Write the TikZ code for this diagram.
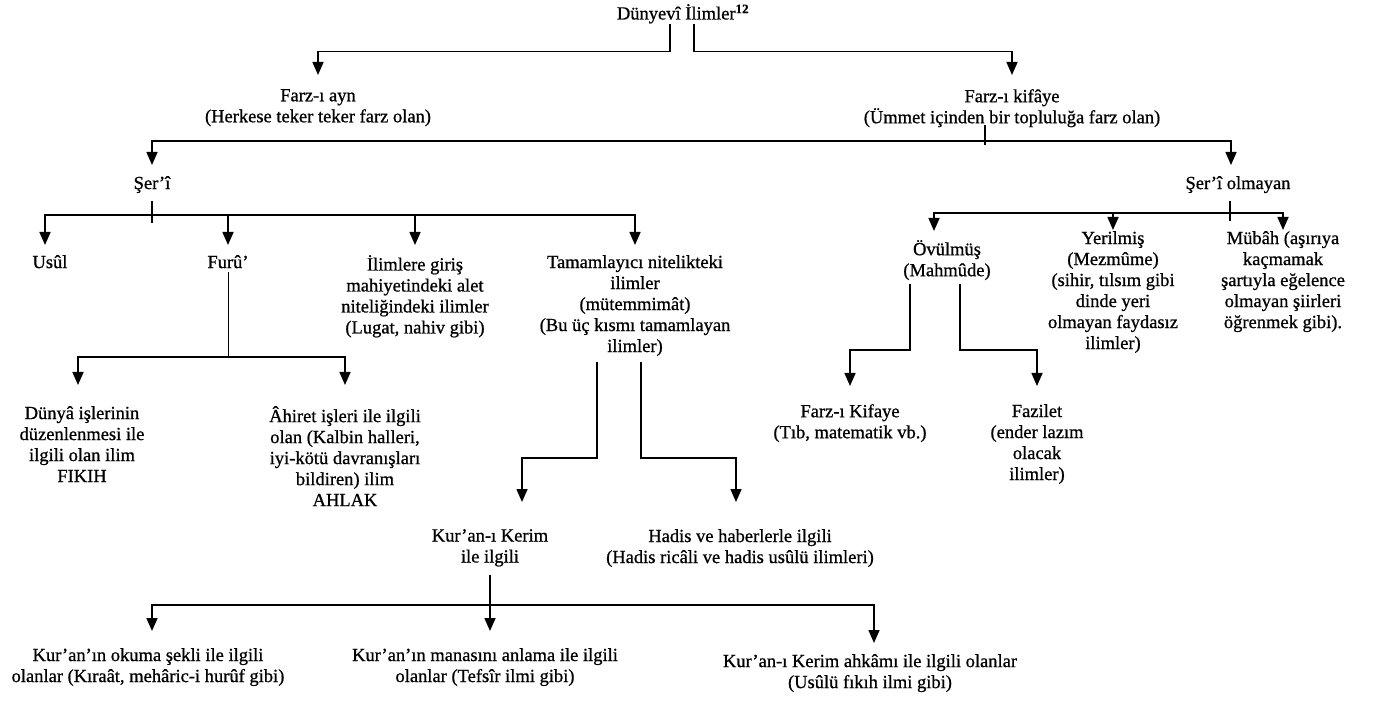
\documentclass[tikz,border=0pt]{standalone}
\usepackage{fontspec}
\setmainfont[FakeBold=0.8]{Liberation Serif}
\usetikzlibrary{arrows.meta}
\begin{document}
\begin{tikzpicture}[x=1pt,y=-1pt,
		lbl/.style={align=center,inner sep=0pt,anchor=north,font=\fontsize{18.5}{21}\selectfont},
		arr/.style={-{Triangle[width=11pt,length=13pt]},line width=1.6pt},
		ln/.style={line width=1.6pt}]
		\useasboundingbox (0,0) rectangle (1374,727);
		\node[lbl] (T) at (683,4) {Dünyevî İlimler\textsuperscript{\textbf{12}}};
		\node[lbl] (fa) at (318,89) {Farz-ı ayn\\(Herkese teker teker farz olan)};
		\node[lbl] (fk) at (1012,89) {Farz-ı kifâye\\(Ümmet içinden bir topluluğa farz olan)};
		\node[lbl] (sr) at (152,176) {Şer’î};
		\node[lbl] (sro) at (1238,176) {Şer’î olmayan};
		\node[lbl] (usul) at (50,255) {Usûl};
		\node[lbl] (furu) at (228,255) {Furû’};
		\node[lbl] (alet) at (415,255) {İlimlere giriş\\mahiyetindeki alet\\niteliğindeki ilimler\\(Lugat, nahiv gibi)};
		\node[lbl] (tam) at (635,255) {Tamamlayıcı nitelikteki\\ilimler\\(mütemmimât)\\(Bu üç kısmı tamamlayan\\ilimler)};
		\node[lbl] (ovul) at (947,240) {Övülmüş\\(Mahmûde)};
		\node[lbl] (yer) at (1113,231) {Yerilmiş\\(Mezmûme)\\(sihir, tılsım gibi\\dinde yeri\\olmayan faydasız\\ilimler)};
		\node[lbl] (mub) at (1283,231) {Mübâh (aşırıya\\kaçmamak\\şartıyla eğelence\\olmayan şiirleri\\öğrenmek gibi).};
		\node[lbl] (fkif) at (850,404) {Farz-ı Kifaye\\(Tıb, matematik vb.)};
		\node[lbl] (faz) at (1037,404) {Fazilet\\(ender lazım\\olacak\\ilimler)};
		\node[lbl] (dun) at (82,406) {Dünyâ işlerinin\\düzenlenmesi ile\\ilgili olan ilim\\FIKIH};
		\node[lbl] (ahi) at (345,406) {Âhiret işleri ile ilgili\\olan (Kalbin halleri,\\iyi-kötü davranışları\\bildiren) ilim\\AHLAK};
		\node[lbl] (kur) at (490,529) {Kur’an-ı Kerim\\ile ilgili};
		\node[lbl] (had) at (740,529) {Hadis ve haberlerle ilgili\\(Hadis ricâli ve hadis usûlü ilimleri)};
		\node[lbl] (oku) at (148,648) {Kur’an’ın okuma şekli ile ilgili\\olanlar (Kıraât, mehâric-i hurûf gibi)};
		\node[lbl] (mana) at (485,648) {Kur’an’ın manasını anlama ile ilgili\\olanlar (Tefsîr ilmi gibi)};
		\node[lbl] (ahk) at (870,654) {Kur’an-ı Kerim ahkâmı ile ilgili olanlar\\(Usûlü fıkıh ilmi gibi)};
		\draw[arr] ([xshift=-13pt]T.south) -- ++(0,28) -| ([yshift=14pt]fa.north);
		\draw[arr] ([xshift=11pt]T.south) -- ++(0,28) -| ([yshift=14pt]fk.north);
		\draw[ln] ([xshift=-27pt,yshift=2pt]fk.south) -- ++(0,20);
		\coordinate (b1) at (985,141);
		\draw[arr] (b1) -| ([yshift=11pt]sr.north);
		\draw[arr] (b1) -| ([xshift=-7pt,yshift=11pt]sro.north);
		\draw[ln] ([yshift=-8pt]sr.south) -- ++(0,22);
		\coordinate (b2) at (152,215);
		\draw[arr] (b2) -| ([xshift=-5pt,yshift=10pt]usul.north);
		\draw[arr] (b2) -| ([yshift=10pt]furu.north);
		\draw[arr] (b2) -| ([yshift=10pt]alet.north);
		\draw[arr] (b2) -| ([yshift=10pt]tam.north);
		\draw[line width=1pt] ([yshift=-4pt]furu.south) -- (228,357) coordinate (b3);
		\draw[arr] (b3) -| ([xshift=-4pt,yshift=21pt]dun.north);
		\draw[arr] (b3) -| ([yshift=21pt]ahi.north);
		\draw[arr] ([xshift=-38pt,yshift=-6pt]tam.south) |- (560,458) -| ([xshift=32pt,yshift=27pt]kur.north);
		\draw[arr] ([xshift=6pt,yshift=-6pt]tam.south) |- (690,458) -| ([xshift=-4pt,yshift=27pt]had.north);
		\draw[ln] ([xshift=-8pt,yshift=-8pt]sro.south) -- ++(0,20);
		\coordinate (b4) at (1230,213);
		\draw[arr] (b4) -| ([xshift=-13pt,yshift=9pt]ovul.north);
		\draw[arr] (b4) -| ([yshift=1pt]yer.north);
		\draw[arr] (b4) -| ([yshift=1pt]mub.north);
		\draw[arr] ([xshift=-37pt,yshift=-4pt]ovul.south) |- (880,350) -| ([yshift=18pt]fkif.north);
		\draw[arr] ([xshift=13pt,yshift=-4pt]ovul.south) |- (1000,350) -| ([yshift=18pt]faz.north);
		\coordinate (b5) at (490,605);
		\draw[ln] ([yshift=-8pt]kur.south) -- (b5);
		\draw[arr] (b5) -| ([xshift=4pt,yshift=17pt]oku.north);
		\draw[arr] (b5) -- ([yshift=17pt]mana.north -| b5);
		\draw[arr] (b5) -| ([xshift=4pt,yshift=11pt]ahk.north);
	\end{tikzpicture}
\end{document}
